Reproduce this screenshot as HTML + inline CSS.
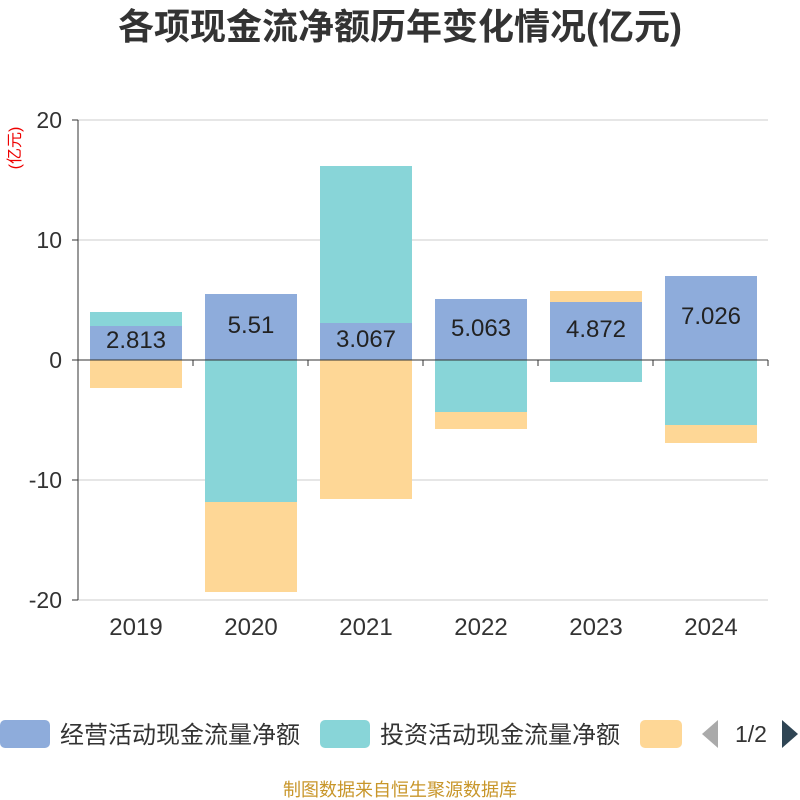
<!DOCTYPE html>
<html><head><meta charset="utf-8"><style>body{margin:0;background:#fff}svg{display:block}</style></head><body>
<svg width="800" height="800" xmlns="http://www.w3.org/2000/svg" font-family="Liberation Sans, Noto Sans CJK SC, sans-serif">
<text x="400" y="39" text-anchor="middle" font-size="36" font-weight="bold" fill="#333">各项现金流净额历年变化情况(亿元)</text>
<text transform="translate(20,148) rotate(-90)" text-anchor="middle" font-size="16" fill="#e00">(亿元)</text>
<g stroke="#ccc" stroke-width="1">
<line x1="78" y1="120" x2="768" y2="120"/><line x1="78" y1="240" x2="768" y2="240"/>
<line x1="78" y1="480" x2="768" y2="480"/><line x1="78" y1="600" x2="768" y2="600"/>
</g>
<g font-size="23" fill="#333" text-anchor="end">
<text x="62" y="128">20</text><text x="62" y="248">10</text><text x="62" y="368">0</text>
<text x="62" y="488">-10</text><text x="62" y="608">-20</text></g>
<g stroke="#333" stroke-width="1"><line x1="78" y1="120" x2="78" y2="600"/>
<line x1="72" y1="120" x2="78" y2="120"/><line x1="72" y1="240" x2="78" y2="240"/><line x1="72" y1="360" x2="78" y2="360"/><line x1="72" y1="480" x2="78" y2="480"/><line x1="72" y1="600" x2="78" y2="600"/></g>
<rect x="90" y="312" width="92" height="14" fill="#88d5d8"/><rect x="90" y="326" width="92" height="34" fill="#8eacdb"/><rect x="90" y="360" width="92" height="28" fill="#fed796"/>
<rect x="205" y="294" width="92" height="66" fill="#8eacdb"/><rect x="205" y="360" width="92" height="142" fill="#88d5d8"/><rect x="205" y="502" width="92" height="90" fill="#fed796"/>
<rect x="320" y="166" width="92" height="157" fill="#88d5d8"/><rect x="320" y="323" width="92" height="37" fill="#8eacdb"/><rect x="320" y="360" width="92" height="139" fill="#fed796"/>
<rect x="435" y="299" width="92" height="61" fill="#8eacdb"/><rect x="435" y="360" width="92" height="52" fill="#88d5d8"/><rect x="435" y="412" width="92" height="17" fill="#fed796"/>
<rect x="550" y="291" width="92" height="11" fill="#fed796"/><rect x="550" y="302" width="92" height="58" fill="#8eacdb"/><rect x="550" y="360" width="92" height="22" fill="#88d5d8"/>
<rect x="665" y="276" width="92" height="84" fill="#8eacdb"/><rect x="665" y="360" width="92" height="65" fill="#88d5d8"/><rect x="665" y="425" width="92" height="18" fill="#fed796"/>
<g stroke="#333" stroke-width="1"><line x1="78" y1="360" x2="768" y2="360"/>
<line x1="78" y1="360" x2="78" y2="366"/><line x1="193" y1="360" x2="193" y2="366"/><line x1="308" y1="360" x2="308" y2="366"/><line x1="423" y1="360" x2="423" y2="366"/><line x1="538" y1="360" x2="538" y2="366"/><line x1="653" y1="360" x2="653" y2="366"/><line x1="768" y1="360" x2="768" y2="366"/></g>
<g font-size="24" fill="#222" text-anchor="middle">
<text x="136" y="348">2.813</text><text x="251" y="333">5.51</text><text x="366" y="347">3.067</text>
<text x="481" y="336">5.063</text><text x="596" y="337">4.872</text><text x="711" y="324">7.026</text></g>
<g font-size="24" fill="#333" text-anchor="middle">
<text x="136" y="635">2019</text><text x="251" y="635">2020</text><text x="366" y="635">2021</text>
<text x="481" y="635">2022</text><text x="596" y="635">2023</text><text x="711" y="635">2024</text></g>
<rect x="0" y="720" width="50" height="28" rx="5" fill="#8eacdb"/>
<text x="60" y="743" font-size="24" fill="#333">经营活动现金流量净额</text>
<rect x="320" y="720" width="50" height="28" rx="5" fill="#88d5d8"/>
<text x="380" y="743" font-size="24" fill="#333">投资活动现金流量净额</text>
<rect x="640" y="720" width="42" height="28" rx="5" fill="#fed796"/>
<polygon points="718,720 718,748 702,734" fill="#aaa"/>
<text x="751" y="742" font-size="23" fill="#333" text-anchor="middle">1/2</text>
<polygon points="782,720 782,748 798,734" fill="#2f4554"/>
<text x="400" y="796" font-size="18" fill="#c8962a" text-anchor="middle">制图数据来自恒生聚源数据库</text>
</svg>
</body></html>
